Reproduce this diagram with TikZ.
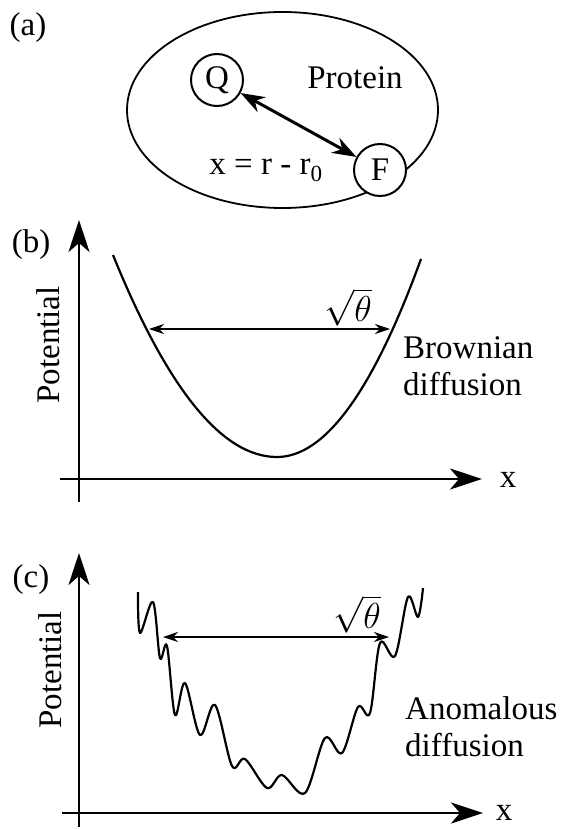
\documentclass[tikz,border=0pt]{standalone}
\usepackage{fontspec}
\setmainfont{Liberation Serif}
\usetikzlibrary{arrows.meta}
\tikzset{
  axisline/.style={line width=2.6pt,-{Stealth[length=32pt,width=21pt,inset=9pt]}},
  wellcurve/.style={line width=2.2pt,line join=round},
  widtharrow/.style={line width=1.3pt,{Stealth[length=15pt,width=10pt]}-{Stealth[length=15pt,width=10pt]}},
  bigtext/.style={font=\fontsize{33}{37}\selectfont,inner sep=0pt},
  roottext/.style={font=\fontsize{24}{28}\selectfont,inner sep=0pt},
  dye/.style={circle,draw,line width=2pt,fill=white,minimum size=52pt,inner sep=0pt,font=\fontsize{33}{37}\selectfont},
}

\begin{document}
\begin{tikzpicture}[x=1pt,y=-1pt]
\path[use as bounding box] (0,0) rectangle (560,829);
% (a) protein with quencher and fluorophore
\node[bigtext] (la) at (28,28) {(a)};
\draw[line width=1.8pt] (282.5,110) ellipse [x radius=155.5, y radius=98];
\node[dye] (Q) at (217,80) {Q};
\node[dye] (F) at (380,170) {F};
\draw[line width=3pt,{Stealth[length=24pt,width=17pt]}-{Stealth[length=24pt,width=17pt]}] (Q) -- (F);
\node[bigtext] (prot) at (355,78) {Protein};
\node[bigtext] (xdef) at (266,170) {x = r - r\textsubscript{0}};
% (b) harmonic well
\node[bigtext] (lb) at (31,245) {(b)};
\coordinate (bxs) at (60,479);
\coordinate (bxe) at (482,479);
\coordinate (bys) at (79,502);
\coordinate (bye) at (79,220);
\draw[axisline] (bxs) -- (bxe);
\draw[axisline] (bys) -- (bye);
\node[bigtext,rotate=90] (potb) at (48,345) {Potential};
\node[bigtext,anchor=base] (xb) at (508,487) {x};
\draw[wellcurve] (113,255) .. controls (167.7,389.7) and (222.3,457) .. (277,457)
  .. controls (325,457) and (373,391) .. (421,259);
\coordinate (bl) at (149,329);
\coordinate (br) at (390,329);
\draw[widtharrow] (bl) -- (br);
\node[roottext] (thb) at (348,307) {\scalebox{1.45}{$\sqrt{\theta}$}};
\node[bigtext,align=left,anchor=west] (brown) at (403,366) {Brownian\\diffusion};
% (c) rugged well
\node[bigtext] (lc) at (31,580) {(c)};
\coordinate (cxs) at (62,813);
\coordinate (cxe) at (483,813);
\coordinate (cys) at (79,827);
\coordinate (cye) at (79,553);
\draw[axisline] (cxs) -- (cxe);
\draw[axisline] (cys) -- (cye);
\node[bigtext,rotate=90] (potc) at (50,670) {Potential};
\node[bigtext,anchor=base] (xc) at (504,820) {x};
\draw[wellcurve] plot[smooth,tension=0.55] coordinates {(138,592) (140,633) (153,602) (160,658) (167,646)
  (175,715) (185,683) (200,735) (215,705) (232,766) (245,759) (267,788) (282,775) (305,793)
  (325,738) (342,753) (358,707) (370,713) (380,643) (395,656) (408,597) (418,617) (423,588)};
\coordinate (cl) at (163,637);
\coordinate (cr) at (389,637);
\draw[widtharrow] (cl) -- (cr);
\node[roottext] (thc) at (357,614) {\scalebox{1.45}{$\sqrt{\theta}$}};
\node[bigtext,align=left,anchor=west] (anom) at (405,727) {Anomalous\\diffusion};
\end{tikzpicture}
\end{document}
